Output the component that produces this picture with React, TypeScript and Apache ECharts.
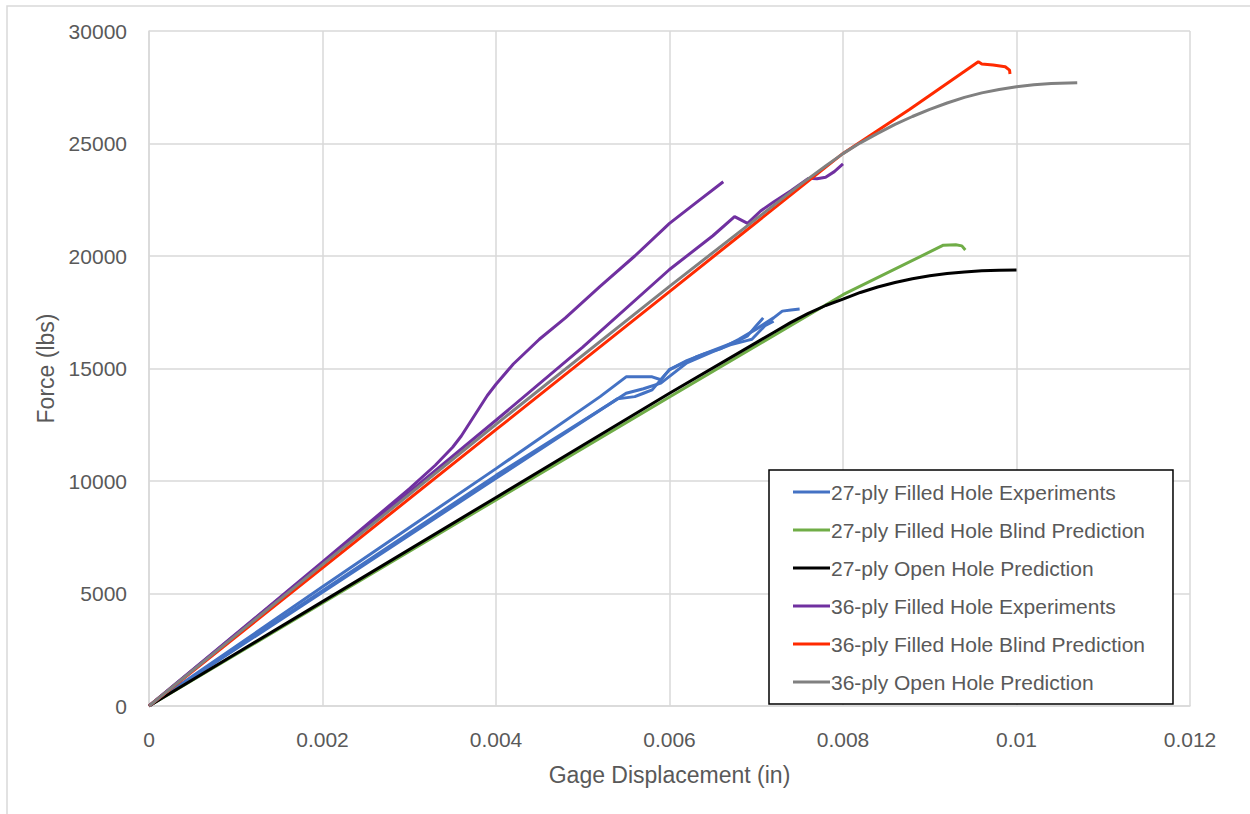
import React, { useEffect, useRef } from "react";
import * as echarts from "echarts";

const seriesNames = [
  "27-ply Filled Hole Experiments",
  "27-ply Filled Hole Blind Prediction",
  "27-ply Open Hole Prediction",
  "36-ply Filled Hole Experiments",
  "36-ply Filled Hole Blind Prediction",
  "36-ply Open Hole Prediction",
];
const seriesColors = ["#4472C4", "#70AD47", "#000000", "#7030A0", "#FF2A00", "#808080"];

const xTicks = [0, 0.002, 0.004, 0.006, 0.008, 0.01, 0.012];
const yTicks = [0, 5000, 10000, 15000, 20000, 25000, 30000];

// 27-ply filled hole experiments (three specimens)
const exp27A: number[][] = [
  [0, 0], [0.002, 5300], [0.004, 10550], [0.0052, 13750], [0.0055, 14630], [0.0058, 14630],
  [0.0059, 14500], [0.006, 14950], [0.0062, 15350], [0.0064, 15650], [0.0066, 15900],
  [0.0068, 16300], [0.007, 16750], [0.0072, 17250], [0.0073, 17550], [0.0074, 17600], [0.0075, 17640],
];
const exp27B: number[][] = [
  [0, 0], [0.002, 5060], [0.004, 10120], [0.0052, 13150], [0.0054, 13650], [0.0056, 13750],
  [0.0057, 13900], [0.0058, 14050], [0.006, 14950], [0.0063, 15500], [0.0066, 15950],
  [0.0068, 16250], [0.0069, 16450], [0.007, 16900], [0.00708, 17250],
];
const exp27C: number[][] = [
  [0, 0], [0.002, 5120], [0.004, 10250], [0.0053, 13400], [0.0055, 13900], [0.0057, 14100],
  [0.0059, 14350], [0.0062, 15250], [0.0065, 15750], [0.0067, 16050], [0.0069, 16250],
  [0.00695, 16300], [0.0071, 16900], [0.0072, 17100],
];
const blind27: number[][] = [
  [0, 0], [0.002, 4580], [0.004, 9160], [0.006, 13730], [0.008, 18280], [0.009157, 20480],
  [0.0093, 20500], [0.00937, 20450], [0.00941, 20270],
];
const open27: number[][] = [
  [0, 0], [0.002, 4640], [0.004, 9270], [0.006, 13900], [0.007, 16150], [0.0072, 16600],
  [0.0074, 17050], [0.0076, 17450], [0.0078, 17800], [0.008, 18080], [0.0082, 18380],
  [0.0084, 18620], [0.0086, 18820], [0.0088, 18990], [0.009, 19120], [0.0092, 19220],
  [0.0094, 19290], [0.0096, 19340], [0.0098, 19370], [0.01, 19380],
];
const exp36A: number[][] = [
  [0, 0], [0.002, 6400], [0.003, 9650], [0.0033, 10700], [0.0035, 11500], [0.0036, 12000],
  [0.0037, 12600], [0.0038, 13200], [0.0039, 13800], [0.004, 14300], [0.0042, 15200],
  [0.0045, 16300], [0.0048, 17250], [0.0052, 18650], [0.0056, 20000], [0.006, 21450],
  [0.0063, 22350], [0.00662, 23300],
];
const exp36B: number[][] = [
  [0, 0], [0.002, 6350], [0.003, 9500], [0.004, 12700], [0.005, 15950], [0.006, 19400],
  [0.0065, 20900], [0.00675, 21750], [0.0069, 21450], [0.00705, 22000], [0.0072, 22400],
  [0.0074, 22900], [0.0076, 23450], [0.0077, 23430], [0.0078, 23500], [0.0079, 23750], [0.008, 24090],
];
const blind36: number[][] = [
  [0, 0], [0.002, 6140], [0.004, 12280], [0.006, 18420], [0.007, 21490], [0.008, 24560],
  [0.00877, 26520], [0.00956, 28630], [0.0096, 28530], [0.00973, 28490], [0.00987, 28410],
  [0.00992, 28260], [0.009925, 28090],
];
const open36: number[][] = [
  [0, 0], [0.002, 6280], [0.004, 12520], [0.006, 18650], [0.007, 21650], [0.0075, 23150],
  [0.0078, 24000], [0.008, 24550], [0.0082, 25030], [0.0084, 25450], [0.0086, 25850],
  [0.0088, 26200], [0.009, 26520], [0.0092, 26800], [0.0094, 27050], [0.0096, 27250],
  [0.0098, 27400], [0.01, 27520], [0.0102, 27610], [0.0104, 27670], [0.0107, 27700],
];

const seriesData: { idx: number; data: number[][] }[] = [
  { idx: 0, data: exp27A },
  { idx: 0, data: exp27B },
  { idx: 0, data: exp27C },
  { idx: 1, data: blind27 },
  { idx: 2, data: open27 },
  { idx: 3, data: exp36A },
  { idx: 3, data: exp36B },
  { idx: 4, data: blind36 },
  { idx: 5, data: open36 },
];

const FONT = "'Liberation Sans', Arial, sans-serif";

export default function App() {
  const ref = useRef<HTMLDivElement>(null);
  useEffect(() => {
    document.body.style.margin = "0";
    if (!ref.current) return;
    const chart = echarts.init(ref.current, undefined, { renderer: "svg" });
    chart.setOption({
      animation: false,
      backgroundColor: "#ffffff",
      graphic: [
        {
          type: "rect",
          shape: { x: 7, y: 6, width: 1400, height: 1000 },
          style: { fill: "none", stroke: "#D9D9D9", lineWidth: 1.5 },
          silent: true,
        },
      ],
      grid: { left: 149, top: 31, right: 60, bottom: 108, containLabel: false },
      legend: {
        orient: "vertical",
        left: 769,
        top: 470,
        data: seriesNames,
        icon: "rect",
        itemWidth: 37,
        itemHeight: 3,
        itemGap: 16,
        padding: [11, 28, 11, 24],
        borderColor: "#000000",
        borderWidth: 1.5,
        backgroundColor: "#ffffff",
        textStyle: { fontFamily: FONT, fontSize: 21, color: "#595959", lineHeight: 22, padding: [0, 0, 0, -4] },
      },
      xAxis: {
        type: "value",
        min: 0,
        max: 0.012,
        interval: 0.002,
        name: "Gage Displacement (in)",
        nameLocation: "middle",
        nameGap: 57,
        nameTextStyle: { fontFamily: FONT, fontSize: 23, color: "#595959" },
        axisLine: { show: true, lineStyle: { color: "#D9D9D9", width: 1.5 } },
        axisTick: { show: false },
        splitLine: { show: true, lineStyle: { color: "#D9D9D9", width: 1.5 } },
        axisLabel: {
          fontFamily: FONT,
          fontSize: 21,
          color: "#595959",
          margin: 23,
          formatter: (v: number) => {
            const t = xTicks.find((k) => Math.abs(k - v) < 1e-9);
            return String(t !== undefined ? +t.toFixed(3) : +v.toFixed(3));
          },
        },
      },
      yAxis: {
        type: "value",
        min: 0,
        max: 30000,
        interval: 5000,
        name: "Force (lbs)",
        nameLocation: "middle",
        nameGap: 91,
        nameTextStyle: { fontFamily: FONT, fontSize: 23, color: "#595959" },
        axisLine: { show: true, lineStyle: { color: "#D9D9D9", width: 1.5 } },
        axisTick: { show: false },
        splitLine: { show: true, lineStyle: { color: "#D9D9D9", width: 1.5 } },
        axisLabel: {
          fontFamily: FONT,
          fontSize: 21,
          color: "#595959",
          margin: 22,
          formatter: (v: number) => {
            const t = yTicks.find((k) => Math.abs(k - v) < 1e-6);
            return String(t !== undefined ? t : v);
          },
        },
      },
      series: seriesData.map((s) => ({
        name: seriesNames[s.idx],
        type: "line",
        data: s.data,
        showSymbol: false,
        symbol: "none",
        smooth: false,
        color: seriesColors[s.idx],
        lineStyle: { color: seriesColors[s.idx], width: 3 },
        emphasis: { disabled: true },
      })),
    });
    return () => chart.dispose();
  }, []);
  return <div ref={ref} style={{ width: 1250, height: 814 }} />;
}
